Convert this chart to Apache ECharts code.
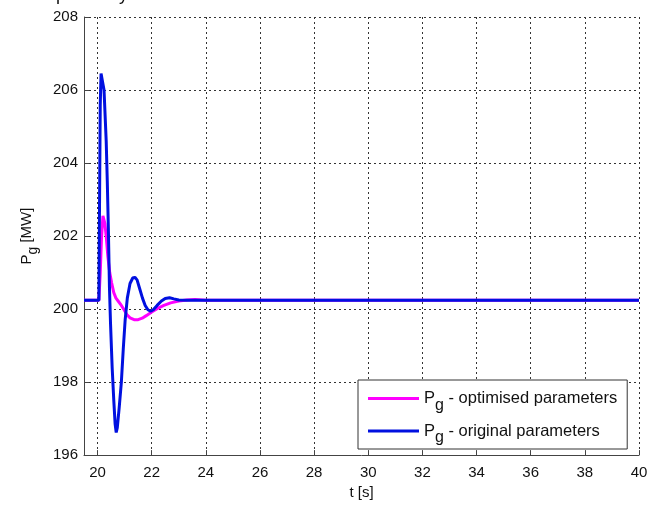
<!DOCTYPE html>
<html>
<head>
<meta charset="utf-8">
<script src="https://cdn.jsdelivr.net/npm/echarts@6/dist/echarts.min.js"></script>
<style>
  html, body { margin: 0; padding: 0; background: #fff; }
  #chart { width: 661px; height: 505px; }
</style>
</head>
<body>
<div id="chart"></div>
<script>
// Generator active power after a disturbance, two controller settings
const timeTicks = [20, 22, 24, 26, 28, 30, 32, 34, 36, 38, 40];

const optimisedT = [19.5, 20.05, 20.1, 20.15, 20.2, 20.23, 20.27, 20.32, 20.38, 20.45, 20.52, 20.6, 20.68, 20.78, 20.88, 20.98, 21.08, 21.2, 21.35, 21.5, 21.65, 21.8, 22.0, 22.2, 22.45, 22.7, 23.0, 23.3, 23.6, 24.0, 40];
const optimisedP = [200.24, 200.24, 201.0, 202.0, 202.55, 202.6, 202.35, 202.0, 201.45, 201.0, 200.72, 200.45, 200.3, 200.2, 200.1, 199.98, 199.85, 199.76, 199.71, 199.71, 199.75, 199.82, 199.92, 200.01, 200.1, 200.17, 200.22, 200.25, 200.26, 200.24, 200.24];

const originalT = [19.5, 20.05, 20.07, 20.1, 20.13, 20.17, 20.2, 20.24, 20.28, 20.32, 20.36, 20.4, 20.44, 20.48, 20.54, 20.6, 20.65, 20.69, 20.73, 20.8, 20.88, 20.95, 21.02, 21.1, 21.2, 21.3, 21.38, 21.46, 21.56, 21.66, 21.76, 21.86, 21.96, 22.06, 22.2, 22.36, 22.5, 22.66, 22.82, 23.0, 23.3, 40];
const originalP = [200.24, 200.24, 202.5, 205.6, 206.45, 206.5, 206.4, 206.0, 205.3, 204.6, 203.5, 202.2, 200.6, 199.6, 198.4, 197.5, 196.85, 196.62, 196.75, 197.3, 198.0, 198.9, 199.7, 200.3, 200.7, 200.85, 200.87, 200.8, 200.55, 200.3, 200.1, 199.98, 199.94, 199.98, 200.1, 200.22, 200.29, 200.31, 200.28, 200.25, 200.24, 200.24];

const legendText = {
  optimised: 'P{s|g} - optimised parameters',
  original: 'P{s|g} - original parameters'
};

const zip = (xs, ys) => xs.map((x, i) => [x, ys[i]]);

const font = 'Liberation Sans, Arial, sans-serif';
const gridLine = { show: true, lineStyle: { color: '#333', type: [2, 3], width: 1 } };

const chart = echarts.init(document.getElementById('chart'), null, { renderer: 'canvas' });
chart.setOption({
  animation: false,
  backgroundColor: '#fff',
  title: {
    text: 'Test power system',
    left: 18,
    top: -14,
    padding: 0,
    textStyle: { fontFamily: font, fontSize: 18, fontWeight: 'normal', color: '#111' }
  },
  grid: { left: 84, right: 22, top: 17, bottom: 46, containLabel: false },
  legend: {
    orient: 'vertical',
    left: 358,
    top: 380,
    backgroundColor: '#fff',
    borderColor: '#333',
    borderWidth: 1,
    borderRadius: 0,
    padding: [10, 10, 3, 10],
    itemGap: 9,
    itemWidth: 51,
    itemHeight: 3,
    icon: 'rect',
    data: ['optimised', 'original'],
    formatter: name => legendText[name],
    textStyle: {
      fontFamily: font, fontSize: 16.5, color: '#111',
      rich: { s: { fontFamily: font, fontSize: 16, color: '#111', padding: [14, 0, 0, 0] } }
    }
  },
  xAxis: {
    type: 'value',
    min: 19.5,
    max: 40,
    name: 't [s]',
    nameLocation: 'middle',
    nameGap: 26,
    nameTextStyle: { fontFamily: font, fontSize: 15, color: '#111' },
    axisLine: { show: true, onZero: false, lineStyle: { color: '#444', width: 1 } },
    axisTick: { show: true, inside: true, length: 5, customValues: timeTicks, lineStyle: { color: '#444' } },
    axisLabel: { customValues: timeTicks, fontFamily: font, fontSize: 15, color: '#111', margin: 10 },
    splitLine: gridLine
  },
  yAxis: {
    type: 'value',
    min: 196,
    max: 208,
    interval: 2,
    name: 'P{s|g} [MW]',
    nameLocation: 'middle',
    nameGap: 44,
    nameTextStyle: {
      fontFamily: font, fontSize: 15, color: '#111',
      rich: { s: { fontFamily: font, fontSize: 14, color: '#111', padding: [12, 0, 0, 0] } }
    },
    axisLine: { show: true, onZero: false, lineStyle: { color: '#444', width: 1 } },
    axisTick: { show: true, inside: true, length: 5, lineStyle: { color: '#444' } },
    axisLabel: { fontFamily: font, fontSize: 15, color: '#111', margin: 6 },
    splitLine: gridLine
  },
  series: [
    {
      name: 'optimised',
      type: 'line',
      data: zip(optimisedT, optimisedP),
      showSymbol: false,
      smooth: false,
      color: '#ff00ff',
      lineStyle: { width: 3, color: '#ff00ff' },
      z: 2
    },
    {
      name: 'original',
      type: 'line',
      data: zip(originalT, originalP),
      showSymbol: false,
      smooth: false,
      color: '#0010e0',
      lineStyle: { width: 3, color: '#0010e0' },
      z: 3
    }
  ]
});
</script>
</body>
</html>
